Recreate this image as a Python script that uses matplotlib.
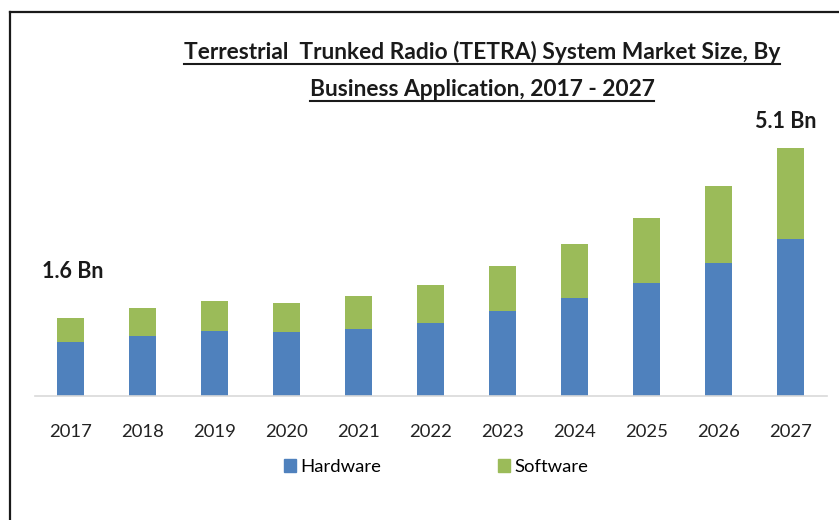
import matplotlib
matplotlib.use("Agg")
import matplotlib.pyplot as plt
from matplotlib.lines import Line2D
from matplotlib.patches import Patch
import numpy as np

years = ["2017", "2018", "2019", "2020", "2021", "2022", "2023", "2024", "2025", "2026", "2027"]
hardware = [1.10, 1.23, 1.34, 1.31, 1.37, 1.51, 1.75, 2.02, 2.33, 2.74, 3.22]
software = [0.51, 0.58, 0.61, 0.61, 0.68, 0.78, 0.92, 1.10, 1.33, 1.57, 1.88]
first_label = "1.6 Bn"
last_label = "5.1 Bn"
title_lines = ["Terrestrial  Trunked Radio (TETRA) System Market Size, By",
               "Business Application, 2017 - 2027"]

plt.rcParams["font.family"] = ["Lato", "DejaVu Sans"]

BLUE = "#4F81BD"
GREEN = "#9BBB59"
INK = "#1a1a1a"

W, H = 839, 520
fig = plt.figure(figsize=(W / 100, H / 100), dpi=100)
fig.patch.set_facecolor("white")

ax = fig.add_axes([34.5 / W, 1 - 396 / H, 792 / W, (396 - 104) / H])
x = np.arange(len(years))
ax.bar(x, hardware, width=0.375, color=BLUE, label="Hardware")
ax.bar(x, software, width=0.375, bottom=hardware, color=GREEN, label="Software")
ax.set_xlim(-0.5, len(years) - 0.5)
ax.set_ylim(0, 6)
ax.set_xticks(x)
ax.set_xticklabels(years, fontsize=13.3, color="#222222")
ax.tick_params(axis="x", length=0, pad=20)
ax.set_yticks([])
for s in ["top", "right", "left"]:
    ax.spines[s].set_visible(False)
ax.spines["bottom"].set_color("#D9D9D9")
ax.spines["bottom"].set_linewidth(1.2)

totals = [h + s for h, s in zip(hardware, software)]
ax.text(-0.4, totals[0] + 0.94, first_label, fontsize=15.5, fontweight="bold",
        ha="left", va="center", color=INK)
ax.text(len(years) - 1 - 0.07, totals[-1] + 0.55, last_label, fontsize=15.5, fontweight="bold",
        ha="center", va="center", color=INK)

fig.legend(handles=[Patch(color=BLUE, label="Hardware"), Patch(color=GREEN, label="Software")],
           loc="center", bbox_to_anchor=(436 / W, 1 - 467 / H), ncol=2, frameon=False,
           fontsize=13.3, handlelength=0.65, handleheight=0.65, handletextpad=0.25,
           columnspacing=6.3)

# Title, two lines, each underlined
title_y = [52, 89]
texts = []
for line, yp in zip(title_lines, title_y):
    t = fig.text(482 / W, 1 - yp / H, line, fontsize=16.4, fontweight="bold",
                 ha="center", va="center", color=INK)
    texts.append(t)
fig.canvas.draw()
renderer = fig.canvas.get_renderer()
for t in texts:
    bb = t.get_window_extent(renderer).transformed(fig.transFigure.inverted())
    fig.add_artist(Line2D([bb.x0, bb.x1], [bb.y0 - 1.0 / H, bb.y0 - 1.0 / H],
                          transform=fig.transFigure, color=INK, lw=1.5))

# Frame on the top and left edges
fig.add_artist(Line2D([9.5 / W, 9.5 / W], [0, 1 - 11.5 / H], transform=fig.transFigure,
                      color=INK, lw=1.6))
fig.add_artist(Line2D([9.5 / W, 1], [1 - 11.5 / H, 1 - 11.5 / H], transform=fig.transFigure,
                      color=INK, lw=1.6))

fig.savefig("out.png", dpi=100, facecolor="white")
